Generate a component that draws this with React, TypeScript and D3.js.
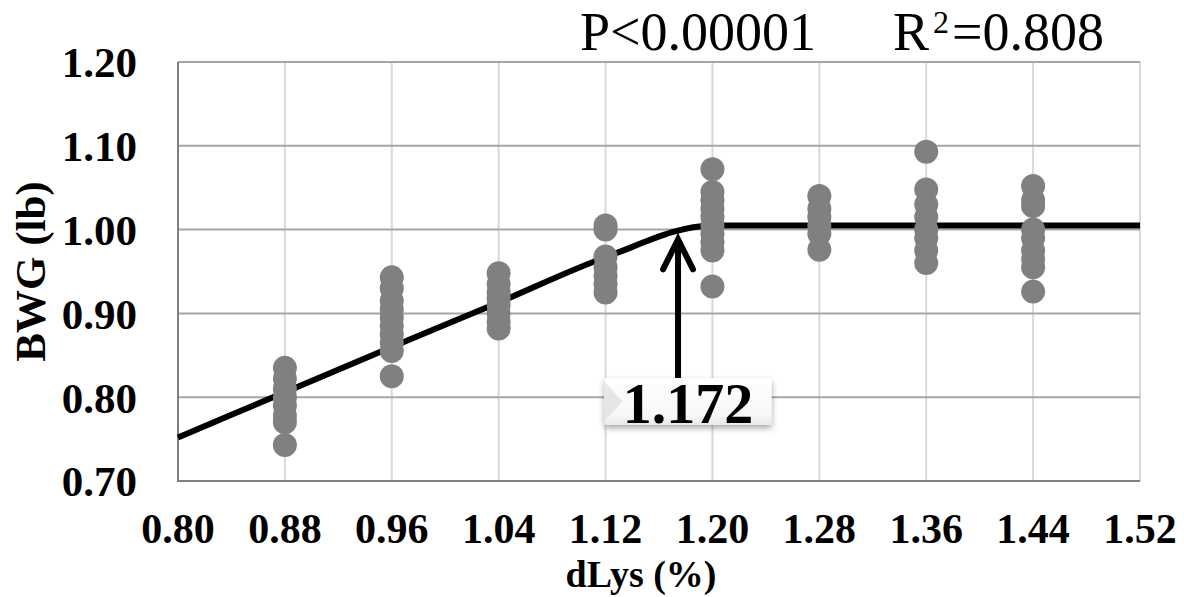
import React from 'react';
import * as d3 from 'd3';

// axis ticks
const xTicks = [0.8, 0.88, 0.96, 1.04, 1.12, 1.2, 1.28, 1.36, 1.44, 1.52];
const yTicks = [0.7, 0.8, 0.9, 1.0, 1.1, 1.2];

// observed BWG per dLys level
const dLysLevels = [0.88, 0.96, 1.04, 1.12, 1.2, 1.28, 1.36, 1.44];
const bwg088 = [0.835, 0.822, 0.81, 0.8, 0.79, 0.778, 0.77, 0.743];
const bwg096 = [0.943, 0.93, 0.915, 0.905, 0.895, 0.885, 0.875, 0.865, 0.855, 0.825];
const bwg104 = [0.948, 0.935, 0.925, 0.918, 0.91, 0.9, 0.89, 0.882];
const bwg112 = [1.005, 1.0, 0.968, 0.955, 0.945, 0.935, 0.925];
const bwg120 = [1.072, 1.045, 1.035, 1.025, 1.015, 1.005, 0.995, 0.985, 0.975, 0.932];
const bwg128 = [1.04, 1.025, 1.015, 1.005, 0.995, 0.976];
const bwg136 = [1.093, 1.048, 1.03, 1.015, 1.0, 0.99, 0.975, 0.96];
const bwg144 = [1.052, 1.035, 1.028, 1.0, 0.99, 0.975, 0.965, 0.955, 0.926];
const bwgByLevel = [bwg088, bwg096, bwg104, bwg112, bwg120, bwg128, bwg136, bwg144];

// broken-line fit
const fitX = [0.8, 0.88, 0.96, 1.04, 1.12, 1.2, 1.28, 1.36, 1.44, 1.52];
const fitY = [0.752, 0.806, 0.86, 0.913, 0.967, 1.005, 1.005, 1.005, 1.005, 1.005];
const breakpoint = 1.172;

const W = 1184;
const H = 597;
const margin = { top: 62, right: 44, bottom: 116, left: 178 };
const serif = '"Liberation Serif", "Times New Roman", serif';

export default function App() {
  const x = d3.scaleLinear().domain([0.8, 1.52]).range([margin.left, W - margin.right]);
  const y = d3.scaleLinear().domain([0.7, 1.2]).range([H - margin.bottom, margin.top]);

  const points = dLysLevels.flatMap((lv, i) => bwgByLevel[i].map((v) => ({ x: lv, y: v })));

  const line = d3
    .line<number>()
    .x((_, i) => x(fitX[i]))
    .y((d) => y(d))
    .curve(d3.curveMonotoneX);

  const arrowX = x(breakpoint) + 3;
  const tipY = y(fitY[fitY.length - 1]) + 14;
  const boxTop = 378;
  const boxW = 167;
  const boxH = 47;
  const boxX = arrowX + 10 - boxW / 2;

  return (
    <svg
      width={W}
      height={H}
      style={{ position: 'absolute', left: 0, top: 0, background: '#fff' }}
      fontFamily={serif}
    >
      <defs>
        <linearGradient id="boxFill" x1="0" y1="0" x2="0" y2="1">
          <stop offset="0%" stopColor="#ffffff" />
          <stop offset="80%" stopColor="#f7f7f7" />
          <stop offset="100%" stopColor="#e8e8e8" />
        </linearGradient>
        <filter id="shadow" x="-10%" y="-20%" width="120%" height="160%">
          <feDropShadow dx="0" dy="3" stdDeviation="3" floodColor="#000" floodOpacity="0.35" />
        </filter>
      </defs>

      {/* gridlines */}
      {xTicks.map((t) => (
        <line key={'gx' + t} x1={x(t)} x2={x(t)} y1={y(0.7)} y2={y(1.2)} stroke="#d9d9d9" strokeWidth={2} />
      ))}
      {yTicks.map((t) => (
        <line key={'gy' + t} x1={x(0.8)} x2={x(1.52)} y1={y(t)} y2={y(t)} stroke="#a6a6a6" strokeWidth={2} />
      ))}
      {/* axes */}
      <line x1={x(0.8)} x2={x(0.8)} y1={y(0.7) + 1} y2={y(1.2)} stroke="#7f7f7f" strokeWidth={2} />
      <line x1={x(0.8)} x2={x(1.52)} y1={y(0.7)} y2={y(0.7)} stroke="#7f7f7f" strokeWidth={2} />

      {/* tick labels */}
      {yTicks.map((t) => (
        <text key={'ty' + t} x={x(0.8) - 41} y={y(t)} dy="0.36em" textAnchor="end" fontSize={43} fontWeight="bold">
          {t.toFixed(2)}
        </text>
      ))}
      {xTicks.map((t) => (
        <text key={'tx' + t} x={x(t)} y={543} textAnchor="middle" fontSize={42} fontWeight="bold">
          {t.toFixed(2)}
        </text>
      ))}

      {/* axis titles */}
      <text x={641} y={587} textAnchor="middle" fontSize={38} fontWeight="bold">
        dLys (%)
      </text>
      <text
        transform={`translate(45, ${(y(0.7) + y(1.2)) / 2}) rotate(-90)`}
        textAnchor="middle"
        fontSize={43}
        fontWeight="bold"
      >
        BWG (lb)
      </text>

      {/* fit line */}
      <path d={line(fitY) || ''} fill="none" stroke="#000" strokeWidth={6} />

      {/* observations */}
      {points.map((p, i) => (
        <circle key={i} cx={x(p.x)} cy={y(p.y)} r={12} fill="#808080" />
      ))}

      {/* breakpoint arrow */}
      <line x1={arrowX} x2={arrowX} y1={boxTop} y2={tipY + 3} stroke="#000" strokeWidth={6} />
      <polyline
        points={`${arrowX - 15},${tipY + 30} ${arrowX},${tipY} ${arrowX + 15},${tipY + 30}`}
        fill="none"
        stroke="#000"
        strokeWidth={6}
        strokeLinecap="round"
        strokeLinejoin="miter"
      />

      {/* breakpoint label */}
      <g filter="url(#shadow)">
        <rect x={boxX} y={boxTop} width={boxW} height={boxH} fill="url(#boxFill)" />
      </g>
      <polygon
        points={`${boxX},${boxTop + 4} ${boxX + 18},${boxTop + boxH / 2} ${boxX},${boxTop + boxH - 4}`}
        fill="#e6e6e6"
      />
      <text x={boxX + boxW / 2} y={boxTop + boxH - 2} textAnchor="middle" fontSize={58} fontWeight="bold">
        {breakpoint.toFixed(3)}
      </text>

      {/* statistics */}
      <text x={580} y={50} fontSize={54}>
        P&lt;0.00001
      </text>
      <text x={893} y={50} fontSize={54}>
        R
        <tspan fontSize={32} dy={-17} dx={4}>
          2
        </tspan>
        <tspan dy={17} dx={3}>=0.808</tspan>
      </text>
    </svg>
  );
}
